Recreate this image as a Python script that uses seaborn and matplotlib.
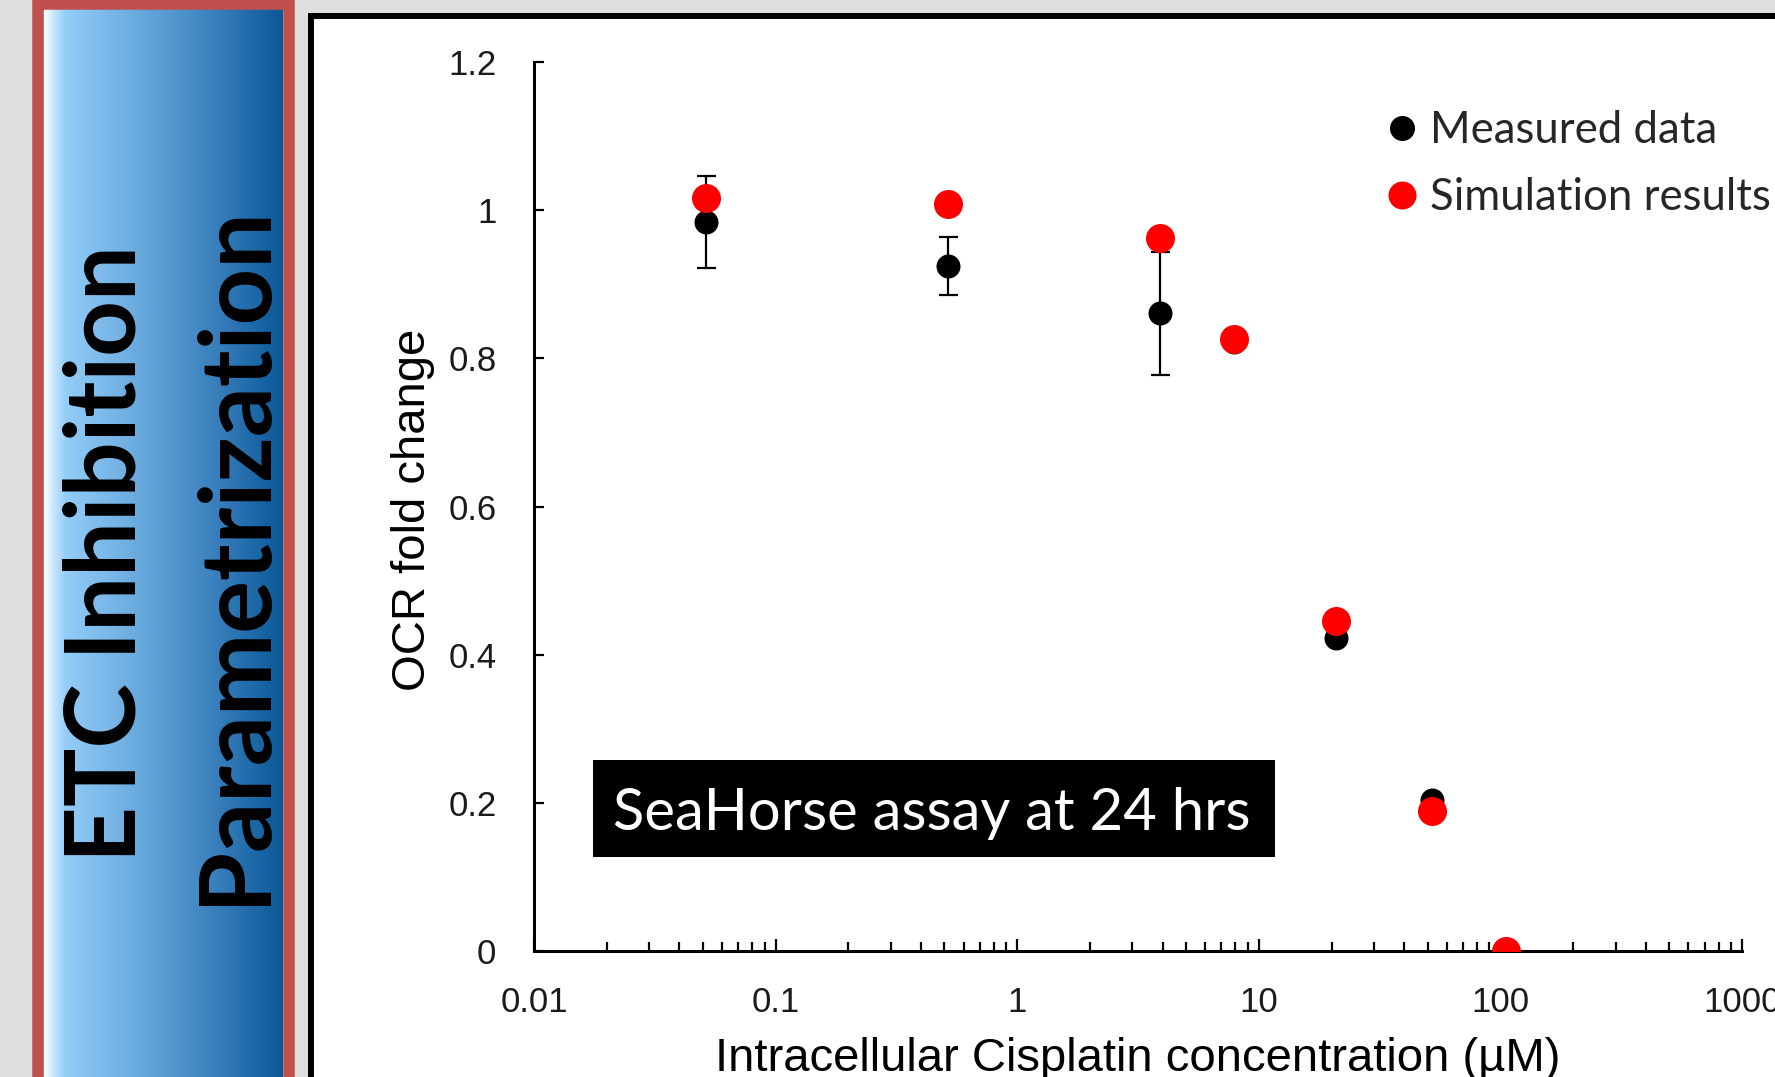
import numpy as np
import pandas as pd
import matplotlib
matplotlib.use("Agg")
import matplotlib.pyplot as plt
import seaborn as sns
from matplotlib.patches import Rectangle
from matplotlib.colors import LinearSegmentedColormap
from matplotlib.lines import Line2D
from matplotlib.ticker import LogLocator, FixedLocator, FixedFormatter, NullFormatter

# ---------------- data ----------------
concentration = [0.0515, 0.517, 3.90, 7.89, 20.9, 52.1, 105.5]
measured = [0.984, 0.925, 0.861, 0.822, 0.4225, 0.204, 0.0]
measured_err = [0.062, 0.039, 0.083, 0.0, 0.0, 0.0, 0.0]
simulated = [1.016, 1.008, 0.962, 0.826, 0.445, 0.189, 0.0]
series_names = ["Measured data", "Simulation results"]
x_ticks = [0.01, 0.1, 1, 10, 100, 1000]
x_tick_labels = ["0.01", "0.1", "1", "10", "100", "1000"]
y_ticks = [0, 0.2, 0.4, 0.6, 0.8, 1.0, 1.2]
y_tick_labels = ["0", "0.2", "0.4", "0.6", "0.8", "1", "1.2"]
panel_title = ["ETC Inhibition", "Parametrization"]
annotation = "SeaHorse assay at 24 hrs"

W, H, DPI = 1775, 1077, 100
PT = DPI / 72.0

def fx(px):
    return px / W

def fy(py):
    return 1 - py / H

sns.set_theme(style="white")
plt.rcParams["font.family"] = ["Liberation Sans", "DejaVu Sans"]

fig = plt.figure(figsize=(W / DPI, H / DPI), dpi=DPI, facecolor="#dedede")

# ---------------- left gradient panel ----------------
cmap = LinearSegmentedColormap.from_list(
    "panel",
    [(0.0, "#ffffff"), (0.03, "#d2ebff"), (0.09, "#93cdf8"),
     (0.5, "#5a9dd4"), (0.8, "#2c74b2"), (1.0, "#0a5898")])
ax_g = fig.add_axes([fx(44), 0, fx(283) - fx(44), fy(9)])
ax_g.imshow(np.linspace(0, 1, 512)[None, :], aspect="auto", cmap=cmap,
            extent=[0, 1, 0, 1])
ax_g.set_axis_off()
fig.add_artist(Rectangle((fx(38), fy(1120)), fx(289) - fx(38), fy(3.5) - fy(1120),
                         transform=fig.transFigure, fill=False,
                         ec="#c0504d", lw=11.5 / PT, zorder=1))
fig.text(fx(135), fy(554), panel_title[0], rotation=90, rotation_mode="anchor",
         ha="center", va="baseline", family=["Lato", "DejaVu Sans"],
         fontweight="bold", fontsize=70, color="black", zorder=3)
fig.text(fx(264), fy(555), panel_title[1], rotation=90, rotation_mode="anchor",
         ha="center", va="baseline", family=["Lato", "DejaVu Sans"],
         fontweight="bold", fontsize=71, color="black", zorder=3)

# ---------------- chart frame ----------------
fig.add_artist(Rectangle((fx(311), fy(1120)), fx(1900) - fx(311), fy(16) - fy(1120),
                         transform=fig.transFigure, fc="white", ec="black",
                         lw=6 / PT, zorder=0.5))

# ---------------- main axes ----------------
ax = fig.add_axes([fx(534), fy(951), fx(1742) - fx(534), (951 - 62) / H])
ax.set_zorder(2)
ax.patch.set_alpha(0)

conc = np.array(concentration)
meas = np.array(measured)
err = np.array(measured_err)
has_err = err > 0
ax.errorbar(conc[has_err], meas[has_err], yerr=err[has_err], fmt="none",
            ecolor="black", elinewidth=2.2 / PT, capsize=9.5 / PT,
            capthick=2.2 / PT, zorder=2)

df = pd.DataFrame({"conc": concentration * 2,
                   "value": measured + simulated,
                   "series": [series_names[0]] * len(measured) + [series_names[1]] * len(simulated)})
sns.scatterplot(data=df[df.series == series_names[0]], x="conc", y="value",
                color="black", s=(24 / PT) ** 2, linewidth=0, ax=ax, zorder=3,
                legend=False)
sns.scatterplot(data=df[df.series == series_names[1]], x="conc", y="value",
                color="#ff0000", s=(29 / PT) ** 2, linewidth=0, ax=ax, zorder=4,
                legend=False)

ax.set_xscale("log")
ax.set_xlim(x_ticks[0], x_ticks[-1])
ax.set_ylim(y_ticks[0], y_ticks[-1])
ax.xaxis.set_major_locator(FixedLocator(x_ticks))
ax.xaxis.set_major_formatter(FixedFormatter(x_tick_labels))
ax.xaxis.set_minor_locator(LogLocator(base=10, subs=np.arange(2, 10)))
ax.xaxis.set_minor_formatter(NullFormatter())
ax.yaxis.set_major_locator(FixedLocator(y_ticks))
ax.yaxis.set_major_formatter(FixedFormatter(y_tick_labels))

for s in ["top", "right"]:
    ax.spines[s].set_visible(False)
for s in ["left", "bottom"]:
    ax.spines[s].set_color("black")
    ax.spines[s].set_linewidth(3 / PT)

ax.tick_params(axis="x", which="major", direction="in", length=12 / PT,
               width=2.2 / PT, bottom=True, color="black", pad=25.5,
               labelsize=25, labelcolor="#1a1a1a")
ax.tick_params(axis="x", which="minor", direction="in", length=9 / PT,
               width=2.2 / PT, bottom=True, color="black")
ax.tick_params(axis="y", which="major", direction="in", length=10 / PT,
               width=2.2 / PT, left=True, color="black", pad=27,
               labelsize=25, labelcolor="#1a1a1a")
ax.grid(False)

ax.set_ylabel("OCR fold change", fontsize=34, color="black")
ax.yaxis.set_label_coords(-0.082, 0.496)
ax.set_xlabel("Intracellular Cisplatin concentration (\u00b5M)", fontsize=34,
              color="black", va="top")
ax.xaxis.set_label_coords(0.5, -0.0967)

handles = [Line2D([], [], marker="o", ls="", color="black", mew=0, markersize=25 / PT),
           Line2D([], [], marker="o", ls="", color="#ff0000", mew=0, markersize=28 / PT)]
ax.legend(handles, series_names, frameon=False,
          prop={"family": "Lato", "size": 31.5}, labelcolor="#262626",
          handlelength=0.85, handletextpad=0.2, borderpad=0, labelspacing=0.6,
          loc="upper left", bbox_to_anchor=(fx(1362), fy(88)),
          bbox_transform=fig.transFigure)

# ---------------- annotation box ----------------
fig.add_artist(Rectangle((fx(593), fy(857)), fx(1275) - fx(593), fy(760) - fy(857),
                         transform=fig.transFigure, fc="black", ec="none", zorder=5))
fig.text(fx(932), fy(830), annotation, ha="center", va="baseline",
         family=["Lato", "DejaVu Sans"], fontsize=41.8, color="white", zorder=6)

fig.savefig("out.png", dpi=DPI, facecolor=fig.get_facecolor())
